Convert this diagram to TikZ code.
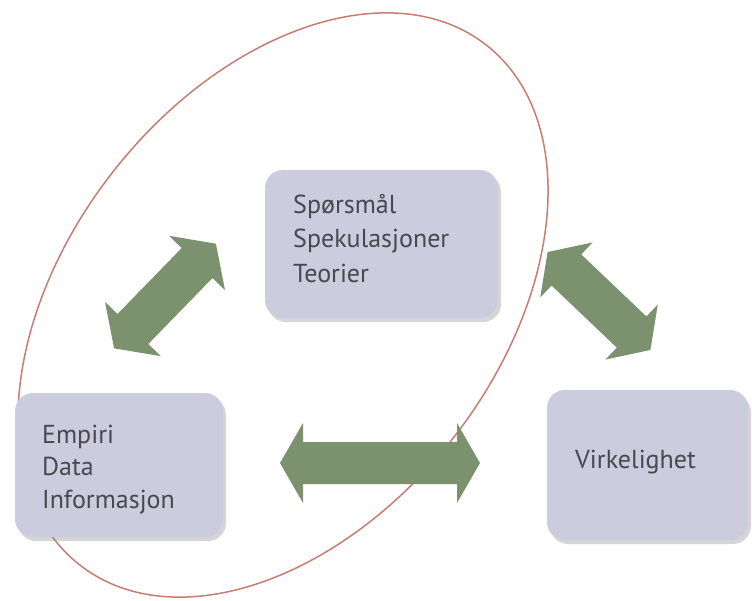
\documentclass[tikz,border=0pt]{standalone}
\usepackage{fontspec}
\setmainfont{PT Sans}
\usetikzlibrary{shadows}
\definecolor{boxfill}{RGB}{204,204,223}
\definecolor{arrowfill}{RGB}{124,146,111}
\definecolor{ellcol}{RGB}{198,126,114}
\definecolor{txtcol}{RGB}{72,72,78}
\newcommand{\dblarrow}[7]{%
  \fill[arrowfill, shift={(#1,#2)}, rotate=#3]
   ({-#4/2},0) -- ({-#4/2+#5},{#6}) -- ({-#4/2+#5},{#7}) -- ({#4/2-#5},{#7}) --
   ({#4/2-#5},{#6}) -- ({#4/2},0) -- ({#4/2-#5},{-#6}) -- ({#4/2-#5},{-#7}) --
   ({-#4/2+#5},{-#7}) -- ({-#4/2+#5},{-#6}) -- cycle;}
\begin{document}
\begin{tikzpicture}[x=1pt,y=-1pt,
  box/.style={fill=boxfill, draw=none, rounded corners=18pt, inner sep=0pt,
    drop shadow={shadow xshift=3pt, shadow yshift=-4pt, fill=black!45, opacity=0.35}},
  txt/.style={anchor=base west, inner sep=0pt, text=txtcol, font=\fontsize{26}{30}\selectfont}]
\fill[white] (0,0) rectangle (752,600);
\useasboundingbox (0,0) rectangle (752,600);
% ellipse
\draw[ellcol, line width=1.5pt, rotate around={52:(283,305)}] (283,305) ellipse [x radius=330pt, y radius=216pt];
% arrows
\dblarrow{165}{296}{45.8}{146}{27}{39}{21.5}
\dblarrow{599}{301}{-43.6}{142}{26}{38}{21.5}
\dblarrow{380}{463}{0}{200}{23}{40}{21}
% boxes
\node[box, minimum width=233pt, minimum height=148pt] (q) at (381.5,244) {};
\node[box, minimum width=208pt, minimum height=144pt] (e) at (119,465) {};
\node[box, minimum width=201pt, minimum height=150pt] (v) at (647.5,465) {};
% texts
\node[txt] (q1) at (293,213) {Spørsmål};
\node[txt] (q2) at (293,247.5) {Spekulasjoner};
\node[txt] (q3) at (293,282) {Teorier};
\node[txt] (e1) at (42,443) {Empiri};
\node[txt] (e2) at (42,475.5) {Data};
\node[txt] (e3) at (42,508) {Informasjon};
\node[txt] (v1) at (575,468) {Virkelighet};
\end{tikzpicture}
\end{document}
